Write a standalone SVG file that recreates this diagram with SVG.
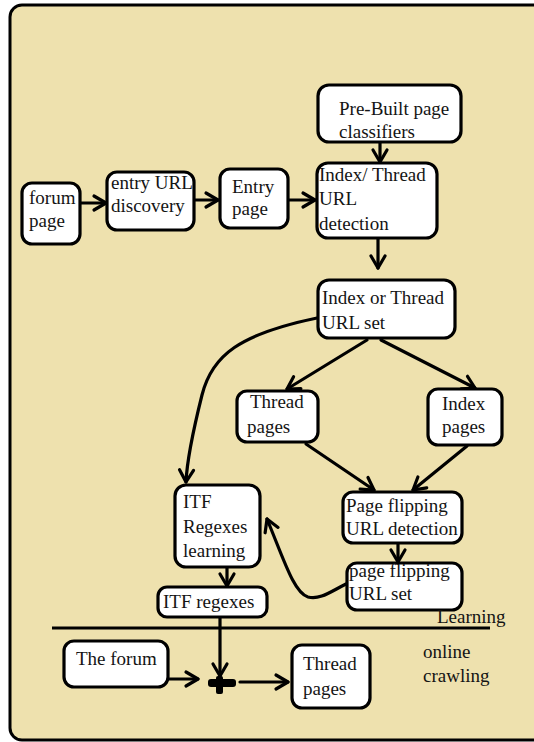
<svg xmlns="http://www.w3.org/2000/svg" width="534" height="742" viewBox="0 0 534 742">
<style>
.node rect{fill:#fff;stroke:#000;stroke-width:3.2}
text{font-family:"Liberation Serif","Times New Roman","DejaVu Serif",serif;font-size:19px;fill:#141414}
.edge{fill:none;stroke:#000;stroke-width:3.2;stroke-linecap:round}
</style>
<defs>
<marker id="ah" markerUnits="userSpaceOnUse" markerWidth="16" markerHeight="18" refX="13" refY="8" orient="auto" overflow="visible">
<path d="M1,1 L13,8 L1,15" fill="none" stroke="#000" stroke-width="3.2" stroke-linecap="round" stroke-linejoin="round"/>
</marker>
</defs>
<rect x="10" y="5" width="540" height="735" rx="12" fill="#EEE1AE" stroke="#000" stroke-width="3"/>

<g id="connectors">
<path class="edge" d="M81,203 L106,203" marker-end="url(#ah)"/>
<path class="edge" d="M195,200 L218,200" marker-end="url(#ah)"/>
<path class="edge" d="M289,200 L315,200" marker-end="url(#ah)"/>
<path class="edge" d="M380,143 L380,162" marker-end="url(#ah)"/>
<path class="edge" d="M378,239 L378,268" marker-end="url(#ah)"/>
<path class="edge" d="M367,340 L287,389" marker-end="url(#ah)"/>
<path class="edge" d="M381,340 L475,388" marker-end="url(#ah)"/>
<path class="edge" d="M317,318 C240,334 212,355 202,395 C192,435 187,460 186,482" marker-end="url(#ah)"/>
<path class="edge" d="M306,444 L374,490" marker-end="url(#ah)"/>
<path class="edge" d="M467,446 L413,490" marker-end="url(#ah)"/>
<path class="edge" d="M398,544 L398,562" marker-end="url(#ah)"/>
<path class="edge" d="M346,584 C330,592 320,600 308,597 C294,593 284,560 267,519" marker-end="url(#ah)"/>
<path class="edge" d="M227,568 L227,586" marker-end="url(#ah)"/>
<path class="edge" d="M220,618 L220,676" marker-end="url(#ah)"/>
<path class="edge" d="M169,679 L198,679" marker-end="url(#ah)"/>
<path class="edge" d="M240,682 L288,682" marker-end="url(#ah)"/>
<rect x="208" y="679" width="28" height="8" rx="3" fill="#000"/>
<rect x="216" y="676" width="7" height="18" rx="2" fill="#000"/>
<path d="M52,628 L490,628" stroke="#000" stroke-width="3" fill="none"/>
</g>

<g font-family="Liberation Serif, DejaVu Serif, serif">
<g id="prebuilt" class="node"><rect x="318" y="85" width="143" height="57" rx="11"/><text x="339" y="115">Pre-Built page</text><text x="339" y="138">classifiers</text></g>
<g id="forum-page" class="node"><rect x="22" y="183" width="58" height="61" rx="10"/><text x="29" y="204">forum</text><text x="29" y="227">page</text></g>
<g id="entry-discovery" class="node"><rect x="107" y="172" width="87" height="58" rx="10"/><text x="111" y="189">entry URL</text><text x="111" y="212">discovery</text></g>
<g id="entry-page" class="node"><rect x="220" y="169" width="68" height="59" rx="10"/><text x="232" y="193">Entry</text><text x="232" y="215">page</text></g>
<g id="it-detection" class="node"><rect x="317" y="163" width="120" height="75" rx="11"/><text x="319" y="181">Index/ Thread</text><text x="319" y="205">URL</text><text x="319" y="230">detection</text></g>
<g id="it-set" class="node"><rect x="318" y="280" width="137" height="58" rx="11"/><text x="322" y="304">Index or Thread</text><text x="322" y="329">URL set</text></g>
<g id="thread-pages" class="node"><rect x="237" y="391" width="81" height="51" rx="10"/><text x="250" y="408">Thread</text><text x="247" y="433">pages</text></g>
<g id="index-pages" class="node"><rect x="428" y="389" width="74" height="56" rx="10"/><text x="442" y="410">Index</text><text x="442" y="433">pages</text></g>
<g id="itf-learning" class="node"><rect x="175" y="485" width="85" height="82" rx="11"/><text x="183" y="508">ITF</text><text x="183" y="533">Regexes</text><text x="183" y="557">learning</text></g>
<g id="pf-detection" class="node"><rect x="343" y="492" width="119" height="51" rx="10"/><text x="346" y="512">Page flipping</text><text x="346" y="535">URL detection</text></g>
<g id="pf-set" class="node"><rect x="347" y="563" width="115" height="47" rx="10"/><text x="349" y="577">page flipping</text><text x="349" y="600">URL set</text></g>
<g id="itf-regexes" class="node"><rect x="158" y="587" width="109" height="30" rx="9"/><text x="163" y="608">ITF regexes</text></g>
<g id="the-forum" class="node"><rect x="64" y="641" width="104" height="46" rx="10"/><text x="76" y="665">The forum</text></g>
<g id="thread-pages-out" class="node"><rect x="292" y="645" width="78" height="63" rx="10"/><text x="303" y="670">Thread</text><text x="303" y="695">pages</text></g>
<g id="labels"><text x="437" y="623">Learning</text><text x="423" y="658">online</text><text x="423" y="682">crawling</text></g>
</g>
</svg>
